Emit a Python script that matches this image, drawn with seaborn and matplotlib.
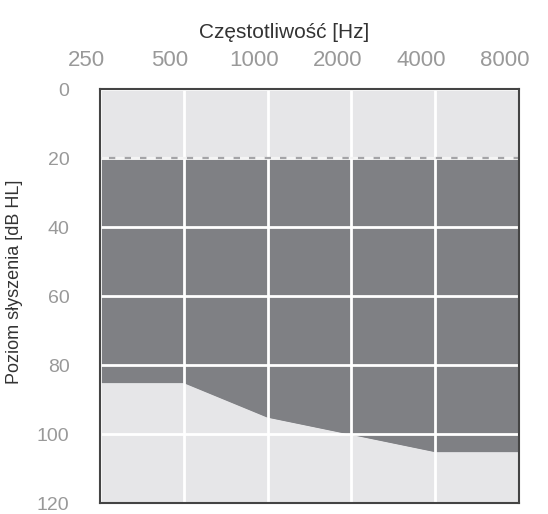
import numpy as np
import pandas as pd
import matplotlib
matplotlib.use("Agg")
import matplotlib.pyplot as plt
import matplotlib.transforms as mtransforms
import seaborn as sns

# ─── Data ──────────────────────────────────────────────────────────────────────

frequencies = [250, 500, 1000, 2000, 4000, 8000]      # Hz
upper_level = [20, 20, 20, 20, 20, 20]                # dB HL
lower_level = [85, 85, 95, 100, 105, 105]             # dB HL
y_ticks = [0, 20, 40, 60, 80, 100, 120]

# ─── Style ─────────────────────────────────────────────────────────────────────

BG_LIGHT = "#e6e6e8"
FILL_DARK = "#7f8084"
TICK_COLOR = "#999999"
LABEL_COLOR = "#333333"

sns.set_style("white")
plt.rcParams["font.family"] = ["Liberation Sans", "DejaVu Sans"]

df = pd.DataFrame({"freq": frequencies, "upper": upper_level, "lower": lower_level})

fig = plt.figure(figsize=(5.48, 5.14), dpi=100)
ax = fig.add_axes([0.1825, 0.021, 0.7645, 0.8058])
ax.set_facecolor(BG_LIGHT)

ax.set_xscale("log", base=2)
ax.fill_between(df["freq"], df["upper"], df["lower"], color=FILL_DARK, lw=0, zorder=1)
sns.lineplot(data=df, x="freq", y="lower", color=FILL_DARK, lw=1, ax=ax, zorder=1)
sns.lineplot(data=df, x="freq", y="upper", color="#f4f4f4", lw=1.6,
             linestyle=(0, (4, 3)), gapcolor="#a4a4a7", ax=ax, zorder=4)

ax.set_xlim(frequencies[0], frequencies[-1])
ax.set_ylim(y_ticks[-1], y_ticks[0])

ax.set_xticks(frequencies)
ax.set_xticklabels([str(f) for f in frequencies])
ax.minorticks_off()
ax.set_yticks(y_ticks)

ax.grid(True, color="white", lw=2, zorder=3)
ax.set_axisbelow(False)

ax.xaxis.tick_top()
ax.xaxis.set_label_position("top")
ax.tick_params(axis="both", length=0, colors=TICK_COLOR)
ax.tick_params(axis="x", labelsize=16, pad=13)
ax.tick_params(axis="y", labelsize=14, pad=22)

# top labels sit a little left of their gridlines in the original
offset = mtransforms.ScaledTranslation(-0.14, 0, fig.dpi_scale_trans)
for lbl in ax.get_xticklabels():
    lbl.set_transform(lbl.get_transform() + offset)

ax.set_xlabel("Częstotliwość [Hz]", fontsize=15, color=LABEL_COLOR)
ax.xaxis.set_label_coords(0.439, 1.137)
ax.xaxis.label.set_va("center")
ax.set_ylabel("Poziom słyszenia [dB HL]", fontsize=13, color=LABEL_COLOR)
ax.yaxis.set_label_coords(-0.203, 0.535)
ax.yaxis.label.set_va("center")

for spine in ax.spines.values():
    spine.set_visible(True)
    spine.set_color("#444444")
    spine.set_linewidth(1.5)
    spine.set_zorder(5)

fig.savefig("out.png", dpi=100)
